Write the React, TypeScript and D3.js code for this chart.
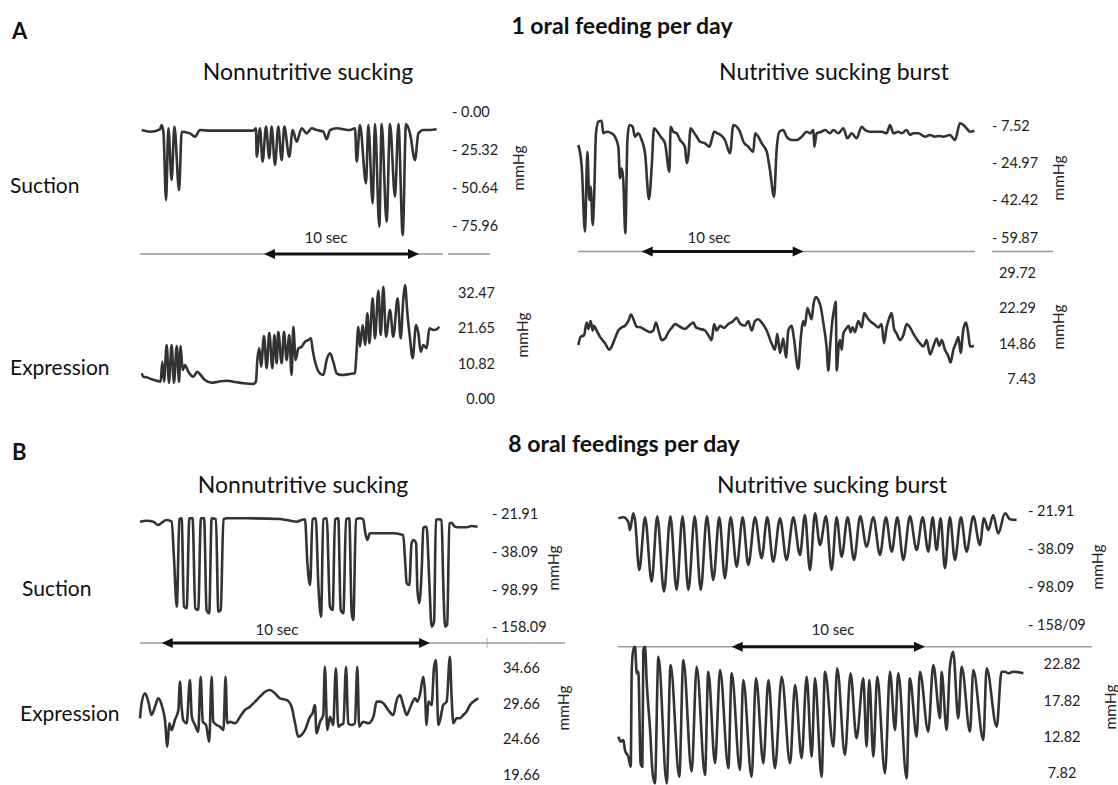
import * as d3 from 'd3'

type Pt = [number, number] // [seconds, mmHg]

// ---------- A: 1 oral feeding per day ----------
const aNnsSuction: Pt[] = [
  [0.11, -12.3], [0.65, -13.4], [1.29, -11.8], [1.4, -8.9], [1.51, -13.4], [1.68, -59.2], [1.83, -11.1],
  [2.04, -45.8], [2.22, -10.0], [2.52, -52.5], [2.69, -13.4], [3.23, -14.5], [3.55, -16.7], [3.87, -12.3],
  [4.52, -12.7], [5.81, -12.7], [7.31, -12.7], [7.48, -11.1], [7.53, -30.1], [7.74, -11.1], [7.91, -33.5],
  [8.13, -10.0], [8.34, -31.2], [8.49, -10.0], [8.71, -35.7], [8.92, -10.0], [9.14, -32.4], [9.31, -10.0],
  [9.63, -30.1], [9.85, -12.3], [10.11, -20.1], [10.43, -11.1], [10.75, -14.5], [11.08, -11.1], [11.4, -12.3],
  [11.83, -13.4], [12.04, -18.5], [12.26, -12.3], [12.69, -11.1], [13.55, -12.3], [13.87, -11.1], [13.98, -33.5],
  [14.19, -8.9], [14.58, -48.0], [14.73, -8.9], [15.01, -61.4], [15.16, -8.2], [15.44, -77.0], [15.59, -8.2],
  [15.91, -73.7], [16.13, -8.2], [16.45, -56.9], [16.67, -8.2], [16.95, -82.6], [17.16, -8.2], [17.42, -14.5],
  [17.74, -32.4], [17.96, -14.5], [18.28, -12.3], [18.71, -12.3], [19.14, -11.8],
]

const aNnsExpression: Pt[] = [
  [0.11, 7.66], [0.22, 6.62], [0.43, 6.42], [0.75, 5.82], [1.08, 5.4], [1.33, 5.09], [1.44, 11.22], [1.55, 5.09],
  [1.72, 16.34], [1.87, 4.78], [2.04, 16.34], [2.19, 4.78], [2.37, 16.03], [2.52, 5.09], [2.62, 16.03], [2.75, 8.67],
  [2.9, 10.21], [3.12, 8.15], [3.44, 6.62], [3.7, 8.15], [3.91, 7.14], [4.19, 5.61], [4.62, 4.78], [5.05, 5.09],
  [5.59, 5.4], [6.02, 5.09], [6.67, 4.6], [7.31, 4.38], [7.48, 5.09], [7.57, 11.74], [7.7, 15.33], [7.81, 9.69],
  [8.0, 19.09], [8.17, 9.2], [8.34, 20.11], [8.54, 9.2], [8.67, 19.4], [8.82, 10.73], [8.92, 20.41], [9.14, 10.73],
  [9.29, 20.41], [9.46, 11.74], [9.63, 19.4], [9.78, 7.14], [9.89, 21.95], [10.04, 11.74], [10.22, 15.33],
  [10.43, 15.82], [10.65, 17.35], [10.86, 17.87], [11.03, 18.39], [11.14, 14.8], [11.35, 10.21], [11.61, 7.66],
  [11.83, 7.14], [12.04, 11.74], [12.26, 13.79], [12.47, 11.22], [12.69, 7.66], [13.01, 7.14], [13.55, 7.45],
  [13.87, 7.66], [13.94, 11.74], [14.09, 21.95], [14.19, 15.82], [14.37, 22.47], [14.52, 16.34], [14.67, 26.05],
  [14.8, 16.86], [15.01, 30.65], [15.16, 18.39], [15.38, 32.98], [15.53, 19.4], [15.7, 34.21], [15.87, 18.88],
  [16.13, 27.06], [16.34, 18.88], [16.62, 30.65], [16.82, 18.39], [16.99, 30.65], [17.1, 34.73], [17.25, 26.05],
  [17.42, 18.39], [17.59, 12.26], [17.81, 22.47], [17.96, 19.92], [18.11, 14.28], [18.28, 16.34], [18.49, 15.33],
  [18.67, 21.46], [18.92, 20.93], [19.14, 21.15], [19.31, 21.95],
]

const aNsSuction: Pt[] = [
  [0.02, -16.85], [0.23, -26.97], [0.43, -57.3], [0.58, -19.98], [0.7, -42.52], [0.78, -36.31], [0.91, -54.18],
  [0.99, -42.52], [1.11, -11.4], [1.26, -5.98], [1.46, -5.51], [1.56, -11.4], [1.77, -10.65], [2.08, -11.4],
  [2.28, -12.98], [2.49, -17.65], [2.59, -32.39], [2.7, -27.72], [2.8, -33.98], [2.92, -58.05], [3.05, -14.52],
  [3.17, -7.52], [3.37, -8.31], [3.52, -12.98], [3.72, -11.4], [3.93, -14.52], [4.14, -20.72], [4.38, -42.19],
  [4.55, -26.97], [4.69, -9.06], [4.9, -10.65], [5.1, -12.98], [5.37, -16.06], [5.64, -29.31], [5.72, -8.31],
  [5.88, -10.65], [6.09, -11.4], [6.3, -14.52], [6.6, -17.65], [6.71, -25.39], [6.81, -22.31], [6.95, -9.06],
  [7.12, -10.65], [7.33, -12.98], [7.53, -15.31], [7.84, -16.06], [8.11, -17.65], [8.25, -14.52], [8.4, -10.65],
  [8.6, -11.4], [8.81, -12.19], [9.07, -14.52], [9.38, -20.72], [9.59, -7.52], [9.79, -8.31], [10.0, -10.65],
  [10.21, -15.31], [10.51, -17.65], [10.82, -19.98], [10.93, -11.4], [11.13, -12.98], [11.34, -16.06],
  [11.65, -19.98], [11.85, -28.52], [12.1, -40.97], [12.26, -19.19], [12.43, -10.65], [12.67, -9.85],
  [12.88, -12.98], [13.19, -14.52], [13.5, -14.52], [13.81, -12.98], [14.12, -10.65], [14.32, -11.4],
  [14.53, -9.85], [14.59, -17.65], [14.73, -11.4], [15.04, -10.65], [15.25, -9.85], [15.56, -11.4],
  [15.76, -9.85], [16.07, -11.4], [16.38, -9.06], [16.63, -13.73], [16.89, -11.4], [17.2, -13.73], [17.51, -8.31],
  [17.72, -9.85], [18.02, -10.65], [18.33, -10.65], [18.74, -10.65], [19.05, -11.4], [19.26, -7.52], [19.47, -11.4],
  [19.77, -10.65], [19.98, -11.4], [20.29, -9.85], [20.49, -12.19], [20.7, -11.4], [21.01, -11.4], [21.42, -12.98],
  [21.73, -12.19], [22.04, -12.98], [22.24, -12.65], [22.55, -12.98], [22.96, -12.19], [23.27, -14.52],
  [23.58, -6.73], [23.79, -7.52], [23.99, -9.06], [24.2, -10.65], [24.47, -10.19],
]

const aNsExpression: Pt[] = [
  [0.02, 14.46], [0.16, 16.13], [0.37, 16.47], [0.53, 19.14], [0.64, 17.81], [0.78, 19.48], [0.91, 17.47],
  [0.99, 18.47], [1.15, 17.47], [1.36, 16.13], [1.67, 14.8], [1.93, 13.45], [2.08, 14.12], [2.28, 15.8],
  [2.49, 17.47], [2.7, 18.13], [2.9, 18.47], [3.11, 19.48], [3.27, 20.82], [3.46, 19.48], [3.62, 18.27],
  [3.87, 18.13], [4.14, 17.61], [4.44, 17.13], [4.65, 17.47], [4.81, 19.14], [5.02, 16.81], [5.16, 15.46],
  [5.37, 15.8], [5.58, 17.13], [5.78, 18.01], [5.99, 18.82], [6.3, 18.27], [6.6, 17.81], [6.91, 18.68],
  [7.12, 19.14], [7.28, 18.13], [7.53, 17.81], [7.84, 17.47], [8.05, 16.47], [8.25, 15.46], [8.4, 18.82],
  [8.56, 17.47], [8.77, 18.47], [9.01, 18.01], [9.28, 18.82], [9.59, 19.48], [9.79, 20.14], [10.0, 18.94],
  [10.31, 18.47], [10.51, 19.48], [10.72, 17.47], [10.93, 19.48], [11.13, 19.82], [11.34, 19.14], [11.65, 17.47],
  [11.95, 14.8], [12.16, 13.45], [12.3, 16.81], [12.47, 12.79], [12.67, 15.8], [12.84, 11.79], [12.98, 17.47],
  [13.19, 18.47], [13.33, 15.8], [13.6, 9.44], [13.74, 15.46], [13.91, 19.48], [14.01, 18.47], [14.16, 22.15],
  [14.28, 21.15], [14.42, 19.82], [14.53, 22.83], [14.69, 24.5], [14.84, 23.84], [14.98, 22.49], [15.14, 19.14],
  [15.35, 13.8], [15.45, 9.1], [15.56, 14.12], [15.7, 19.48], [15.82, 22.15], [15.91, 23.49], [15.97, 9.1],
  [16.09, 14.26], [16.17, 15.46], [16.28, 13.45], [16.38, 16.81], [16.54, 17.81], [16.71, 18.47], [16.83, 17.13],
  [16.95, 18.13], [17.1, 17.13], [17.3, 19.48], [17.51, 18.13], [17.67, 21.15], [17.86, 20.14], [18.02, 19.48],
  [18.27, 18.82], [18.54, 18.13], [18.74, 18.82], [18.89, 14.8], [19.05, 18.13], [19.22, 20.14], [19.36, 21.15],
  [19.51, 17.81], [19.67, 16.81], [19.88, 15.46], [20.08, 16.47], [20.29, 18.82], [20.49, 18.13], [20.7, 16.81],
  [20.95, 15.46], [21.11, 14.8], [21.32, 14.12], [21.52, 15.46], [21.73, 12.45], [21.93, 14.12], [22.14, 15.8],
  [22.3, 14.26], [22.45, 15.46], [22.65, 13.45], [22.86, 12.11], [23.0, 10.78], [23.17, 13.45], [23.33, 14.8],
  [23.48, 16.13], [23.62, 12.79], [23.79, 17.81], [23.95, 19.14], [24.09, 16.81], [24.2, 14.12], [24.44, 14.26],
]

// ---------- B: 8 oral feedings per day ----------
const bNnsSuction: Pt[] = [
  [0, -25.45], [0.25, -25.03], [0.5, -25.45], [0.68, -26.84], [0.81, -25.87], [0.99, -24.73], [1.18, -25.45],
  [1.27, -51.53], [1.37, -126.49], [1.47, -24.44], [1.55, -24.02], [1.64, -126.49], [1.74, -129.01],
  [1.84, -24.02], [1.96, -24.02], [2.06, -129.01], [2.17, -131.7], [2.27, -24.02], [2.39, -24.02], [2.48, -131.7],
  [2.58, -136.91], [2.67, -24.02], [2.83, -24.44], [2.92, -134.39], [3.01, -131.7], [3.11, -24.44], [3.23, -24.02],
  [3.98, -24.02], [5.22, -24.31], [5.84, -25.45], [6.02, -24.73], [6.15, -24.44], [6.24, -56.88], [6.34, -92.02],
  [6.43, -24.44], [6.55, -24.02], [6.65, -94.78], [6.75, -142.29], [6.83, -24.44], [6.96, -24.02], [7.08, -126.49],
  [7.18, -131.7], [7.27, -24.44], [7.39, -24.02], [7.48, -131.7], [7.58, -136.91], [7.68, -24.44], [7.8, -24.02],
  [7.89, -136.91], [7.95, -147.5], [8.05, -24.44], [8.2, -24.02], [8.32, -24.44], [8.39, -29.66], [8.47, -33.16],
  [8.57, -30.34], [8.94, -30.34], [9.44, -30.34], [9.81, -31.05], [9.88, -51.53], [9.94, -89.27], [10.04, -92.02],
  [10.12, -34.55], [10.19, -33.16], [10.29, -34.55], [10.34, -100.1], [10.41, -121.11], [10.5, -67.73],
  [10.56, -28.23], [10.62, -27.56], [10.68, -27.56], [10.78, -83.93], [10.87, -158.09], [10.96, -150.19],
  [11.03, -24.73], [11.12, -24.44], [11.24, -24.73], [11.3, -83.93], [11.37, -158.09], [11.45, -155.0],
  [11.53, -26.12], [11.61, -25.87], [11.74, -27.56], [11.93, -27.81], [12.17, -27.81], [12.36, -27.26],
  [12.58, -27.56],
]

const bNnsExpression: Pt[] = [
  [0, 27.55], [0.06, 29.66], [0.19, 31.07], [0.31, 29.89], [0.43, 28.01], [0.56, 29.18], [0.68, 30.36],
  [0.81, 29.42], [0.93, 27.31], [1.02, 23.55], [1.09, 26.84], [1.18, 25.9], [1.3, 27.31], [1.43, 28.72],
  [1.49, 32.7], [1.55, 29.18], [1.61, 27.31], [1.74, 26.84], [1.86, 32.94], [1.93, 27.77], [2.05, 26.6],
  [2.17, 25.66], [2.26, 33.41], [2.34, 27.07], [2.46, 26.6], [2.58, 24.25], [2.67, 33.41], [2.73, 27.07],
  [2.86, 26.6], [2.98, 26.37], [3.11, 25.9], [3.19, 33.41], [3.25, 26.84], [3.35, 27.07], [3.54, 26.84],
  [3.73, 27.77], [3.91, 28.72], [4.1, 29.18], [4.29, 29.89], [4.47, 30.59], [4.66, 31.29], [4.84, 31.53],
  [5.03, 31.07], [5.22, 30.36], [5.47, 30.12], [5.65, 29.18], [5.78, 26.84], [5.9, 24.96], [6.02, 25.2],
  [6.15, 25.9], [6.34, 27.77], [6.43, 28.25], [6.52, 29.42], [6.58, 25.44], [6.71, 27.07], [6.83, 28.01],
  [6.89, 34.81], [6.98, 25.9], [7.08, 27.77], [7.2, 26.6], [7.3, 34.59], [7.39, 26.37], [7.48, 26.6],
  [7.58, 26.84], [7.68, 34.81], [7.76, 26.84], [7.89, 26.6], [8.01, 26.84], [8.1, 34.81], [8.17, 26.37],
  [8.32, 27.07], [8.51, 26.84], [8.7, 27.77], [8.82, 29.89], [8.94, 29.89], [9.07, 29.66], [9.25, 28.72],
  [9.44, 28.01], [9.57, 30.12], [9.69, 30.83], [9.81, 29.42], [9.94, 28.01], [10.06, 28.96], [10.25, 30.36],
  [10.34, 29.89], [10.43, 30.83], [10.56, 33.41], [10.62, 31.29], [10.68, 26.6], [10.75, 29.89], [10.87, 29.42],
  [10.96, 34.81], [11.03, 35.76], [11.12, 26.6], [11.2, 27.55], [11.3, 29.42], [11.43, 29.89], [11.55, 36.22],
  [11.61, 30.83], [11.68, 26.84], [11.8, 27.55], [11.93, 27.55], [12.05, 28.01], [12.17, 28.48], [12.3, 29.42],
  [12.42, 29.89], [12.61, 30.36],
]

const bNsSuction: Pt[] = [
  [0.02, -25.4], [0.28, -25.0], [0.53, -26.9], [0.62, -30.4], [0.79, -23.3], [0.88, -26.1],
  [1.1, -72.6], [1.4, -25.0], [1.74, -91.3], [2.03, -24.6], [2.38, -107.1], [2.71, -24.6],
  [3.03, -104.4], [3.34, -24.6], [3.64, -104.4], [3.97, -24.6], [4.28, -104.4], [4.6, -24.6],
  [4.93, -88.5], [5.24, -25.0], [5.53, -85.8], [5.83, -25.0], [6.14, -67.4], [6.45, -25.0],
  [6.74, -64.7], [7.09, -25.0], [7.43, -54.0], [7.72, -25.0], [8.03, -59.4], [8.38, -25.4],
  [8.72, -56.7], [9.07, -25.0], [9.41, -48.8], [9.67, -24.0], [9.93, -72.6], [10.19, -23.3],
  [10.45, -36.7], [10.76, -24.6], [11.05, -72.6], [11.31, -25.0], [11.57, -51.5], [11.88, -25.0],
  [12.21, -56.7], [12.53, -24.6], [12.86, -37.4], [13.21, -25.0], [13.55, -48.8], [13.86, -25.0],
  [14.16, -43.5], [14.45, -25.0], [14.76, -56.7], [15.1, -24.6], [15.45, -40.8], [15.76, -25.0],
  [16.05, -43.5], [16.28, -25.0], [16.48, -40.8], [16.69, -25.4], [16.91, -69.9], [17.17, -25.0],
  [17.43, -56.7], [17.74, -25.0], [18.03, -43.5], [18.38, -24.6], [18.72, -36.7], [18.93, -25.4],
  [19.16, -30.4], [19.41, -24.0], [19.67, -31.8], [20.02, -23.3], [20.28, -25.8], [20.62, -26.1],
]

const bNsExpression: Pt[] = [
  [0.02, 12.74], [0.14, 12.05], [0.28, 12.28], [0.36, 10.9], [0.53, 9.97], [0.66, 8.58], [0.71, 21.98],
  [0.79, 24.75], [0.88, 25.2], [0.97, 21.52], [1.05, 21.74], [1.17, 9.05], [1.26, 8.58], [1.31, 24.75],
  [1.4, 25.2], [1.48, 20.59], [1.66, 13.67], [1.79, 7.67], [1.91, 6.28], [2.09, 23.82], [2.52, 6.28],
  [2.72, 22.67], [3.17, 7.2], [3.38, 23.36], [3.81, 7.89], [4.07, 22.43], [4.5, 7.43], [4.67, 21.74],
  [5.02, 9.05], [5.28, 21.98], [5.71, 8.36], [5.88, 21.52], [6.31, 8.13], [6.48, 20.59], [6.91, 7.2],
  [7.14, 20.83], [7.52, 9.05], [7.78, 20.59], [8.12, 8.36], [8.47, 21.05], [8.9, 9.05], [9.16, 19.9],
  [9.5, 9.75], [9.76, 21.05], [10.02, 9.97], [10.19, 20.83], [10.53, 7.2], [10.71, 21.74], [11.14, 11.35],
  [11.34, 22.21], [11.74, 10.2], [12.03, 21.52], [12.34, 12.52], [12.69, 20.83], [12.86, 11.35], [13.0, 20.59],
  [13.21, 9.97], [13.41, 21.05], [13.81, 7.67], [14.07, 21.74], [14.33, 13.67], [14.5, 21.52], [14.93, 6.98],
  [15.1, 20.83], [15.45, 12.74], [15.62, 21.74], [16.05, 13.43], [16.31, 22.67], [16.66, 15.29], [16.74, 21.74],
  [17.0, 13.67], [17.17, 22.43], [17.34, 24.51], [17.6, 15.29], [17.78, 22.43], [18.21, 13.43], [18.38, 21.98],
  [18.9, 12.28], [19.07, 22.21], [19.59, 14.12], [19.84, 21.74], [20.02, 21.74], [20.19, 21.52], [20.45, 21.74],
  [20.97, 21.52],
]

// tick values and the labels printed next to them
const aNnsSuctionTicks = [0, -25.32, -50.64, -75.96]
const aNnsSuctionLabels = ['- 0.00', '- 25.32', '- 50.64', '- 75.96']
const aNnsExpressionTicks = [32.47, 21.65, 10.82, 0]
const aNnsExpressionLabels = ['32.47', '21.65', '10.82', '0.00']
const aNsSuctionTicks = [-7.52, -24.97, -42.42, -59.87]
const aNsSuctionLabels = ['- 7.52', '- 24.97', '- 42.42', '- 59.87']
const aNsExpressionTicks = [29.72, 22.29, 14.86, 7.43]
const aNsExpressionLabels = ['29.72', '22.29', '14.86', '7.43']
const bNnsSuctionTicks = [-21.91, -38.09, -98.99, -158.09]
const bNnsSuctionLabels = ['- 21.91', '- 38.09', '- 98.99', '- 158.09']
const bNnsExpressionTicks = [34.66, 29.66, 24.66, 19.66]
const bNnsExpressionLabels = ['34.66', '29.66', '24.66', '19.66']
const bNsSuctionTicks = [-21.91, -38.09, -98.09, -158.09]
const bNsSuctionLabels = ['- 21.91', '- 38.09', '- 98.09', '- 158/09']
const bNsExpressionTicks = [22.82, 17.82, 12.82, 7.82]
const bNsExpressionLabels = ['22.82', '17.82', '12.82', '7.82']

const headings = ['1 oral feeding per day', '8 oral feedings per day']
const conditions = ['Nonnutritive sucking', 'Nutritive sucking burst']
const rows = ['Suction', 'Expression']
const scaleBarSec = 10
const unit = 'mmHg'

const FONT = 'Lato, "Open Sans", Arial, sans-serif'
const INK = '#333'

function Trace({ data, x, y }: { data: Pt[]; x: d3.ScaleLinear<number, number>; y: d3.ScaleLinear<number, number> }) {
  const line = d3.line<Pt>().x(d => x(d[0])).y(d => y(d[1])).curve(d3.curveMonotoneX)
  return <path d={line(data) ?? ''} fill="none" stroke={INK} strokeWidth={2.6} strokeLinejoin="round" />
}

function YLabels({ y, ticks, labels, x, anchor, unitPos }: {
  y: d3.ScaleLinear<number, number>; ticks: number[]; labels: string[]; x: number; anchor: string; unitPos: [number, number]
}) {
  return (
    <g fontFamily={FONT} fontSize={14.5} fill="#222">
      {ticks.map((t, i) => (
        <text key={i} x={x} y={y(t)} textAnchor={anchor} dominantBaseline="central">{labels[i]}</text>
      ))}
      <text transform={`translate(${unitPos[0]},${unitPos[1]}) rotate(-90)`} fontSize={15.5} textAnchor="middle" dominantBaseline="central">{unit}</text>
    </g>
  )
}

function TimeBar({ x, y, start, gray, textX, textY, tickAt }: {
  x: d3.ScaleLinear<number, number>; y: number; start: number; gray: [number, number][]; textX: number; textY: number; tickAt?: number
}) {
  const a = x(start)
  const b = x(start + scaleBarSec)
  const h = 5, l = 11
  return (
    <g>
      {gray.map((s, i) => <line key={i} x1={s[0]} x2={s[1]} y1={y} y2={y} stroke="#999" strokeWidth={1.5} />)}
      {tickAt !== undefined && <line x1={tickAt} x2={tickAt} y1={y - 5} y2={y + 5} stroke="#aaa" strokeWidth={1} />}
      <line x1={a + l - 2} x2={b - l + 2} y1={y} y2={y} stroke="#111" strokeWidth={3} />
      <polygon points={`${a},${y} ${a + l},${y - h} ${a + l},${y + h}`} fill="#111" />
      <polygon points={`${b},${y} ${b - l},${y - h} ${b - l},${y + h}`} fill="#111" />
      <text x={textX} y={textY} textAnchor="middle" fontFamily={FONT} fontSize={15} fill="#222">{scaleBarSec} sec</text>
    </g>
  )
}

export default function App() {
  // time scales (one per column and feeding group)
  const xAL = d3.scaleLinear().domain([0, 19.4]).range([140, 140 + 19.4 * 15.5])
  const xAR = d3.scaleLinear().domain([0, 24.5]).range([578, 578 + 24.5 * 16.2])
  const xBL = d3.scaleLinear().domain([0, 12.65]).range([140, 140 + 12.65 * 26.83])
  const xBR = d3.scaleLinear().domain([0, 21]).range([618, 618 + 21 * 19.33])

  // pressure scales, piecewise through the printed ticks
  const yA1 = d3.scaleLinear().domain(aNnsSuctionTicks).range([111.7, 149.5, 187.3, 225.1])
  const yA2 = d3.scaleLinear().domain(aNnsExpressionTicks).range([292.4, 327.7, 363.0, 398.3])
  const yA3 = d3.scaleLinear().domain(aNsSuctionTicks).range([125, 162.4, 199.8, 237.2])
  const yA4 = d3.scaleLinear().domain(aNsExpressionTicks).range([272, 307.5, 343, 378.5])
  const yB1 = d3.scaleLinear().domain(bNnsSuctionTicks).range([513.3, 551.7, 589.3, 626.7])
  const yB2 = d3.scaleLinear().domain(bNnsExpressionTicks).range([667.8, 703.3, 738.8, 774.3])
  const yB3 = d3.scaleLinear().domain(bNsSuctionTicks).range([510, 548.3, 586, 624])
  const yB4 = d3.scaleLinear().domain(bNsExpressionTicks).range([663.9, 700, 736.1, 772.2])

  return (
    <svg width={1118} height={785} style={{ position: 'absolute', left: 0, top: 0, background: '#fff' }}>
      <rect width={1118} height={785} fill="#fff" />
      <g fontFamily={FONT} fill="#111">
        <text x={12} y={39} fontSize={22} fontWeight={700}>A</text>
        <text x={622} y={34} fontSize={23} fontWeight={700} textAnchor="middle">{headings[0]}</text>
        <text x={308} y={80} fontSize={23} textAnchor="middle">{conditions[0]}</text>
        <text x={834} y={80} fontSize={23} textAnchor="middle">{conditions[1]}</text>
        <text x={10} y={193} fontSize={21}>{rows[0]}</text>
        <text x={10} y={375} fontSize={21}>{rows[1]}</text>

        <text x={12} y={460} fontSize={22} fontWeight={700}>B</text>
        <text x={624} y={452} fontSize={23} fontWeight={700} textAnchor="middle">{headings[1]}</text>
        <text x={303} y={493} fontSize={23} textAnchor="middle">{conditions[0]}</text>
        <text x={832} y={493} fontSize={23} textAnchor="middle">{conditions[1]}</text>
        <text x={22} y={596} fontSize={21}>{rows[0]}</text>
        <text x={20} y={721} fontSize={21}>{rows[1]}</text>
      </g>

      {/* A, nonnutritive */}
      <Trace data={aNnsSuction} x={xAL} y={yA1} />
      <YLabels y={yA1} ticks={aNnsSuctionTicks} labels={aNnsSuctionLabels} x={452} anchor="start" unitPos={[518, 168]} />
      <TimeBar x={xAL} y={254} start={8.0} gray={[[140, 443], [448, 490]]} textX={326} textY={243} />
      <Trace data={aNnsExpression} x={xAL} y={yA2} />
      <YLabels y={yA2} ticks={aNnsExpressionTicks} labels={aNnsExpressionLabels} x={495} anchor="end" unitPos={[522, 335]} />

      {/* A, nutritive */}
      <Trace data={aNsSuction} x={xAR} y={yA3} />
      <YLabels y={yA3} ticks={aNsSuctionTicks} labels={aNsSuctionLabels} x={992} anchor="start" unitPos={[1058, 178]} />
      <TimeBar x={xAR} y={251.5} start={3.93} gray={[[578, 975], [992, 1053]]} textX={709} textY={243} />
      <Trace data={aNsExpression} x={xAR} y={yA4} />
      <YLabels y={yA4} ticks={aNsExpressionTicks} labels={aNsExpressionLabels} x={1036} anchor="end" unitPos={[1058, 327]} />

      {/* B, nonnutritive */}
      <Trace data={bNnsSuction} x={xBL} y={yB1} />
      <YLabels y={yB1} ticks={bNnsSuctionTicks} labels={bNnsSuctionLabels} x={492} anchor="start" unitPos={[553, 568]} />
      <TimeBar x={xBL} y={643} start={0.81} gray={[[140, 565]]} tickAt={487} textX={277} textY={635} />
      <Trace data={bNnsExpression} x={xBL} y={yB2} />
      <YLabels y={yB2} ticks={bNnsExpressionTicks} labels={bNnsExpressionLabels} x={540} anchor="end" unitPos={[563, 708]} />

      {/* B, nutritive */}
      <Trace data={bNsSuction} x={xBR} y={yB3} />
      <YLabels y={yB3} ticks={bNsSuctionTicks} labels={bNsSuctionLabels} x={1028} anchor="start" unitPos={[1097, 567]} />
      <TimeBar x={xBR} y={646.7} start={5.88} gray={[[618, 1092]]} textX={833} textY={635} />
      <Trace data={bNsExpression} x={xBR} y={yB4} />
      <YLabels y={yB4} ticks={bNsExpressionTicks} labels={bNsExpressionLabels} x={1062} anchor="middle" unitPos={[1110, 707]} />
    </svg>
  )
}
